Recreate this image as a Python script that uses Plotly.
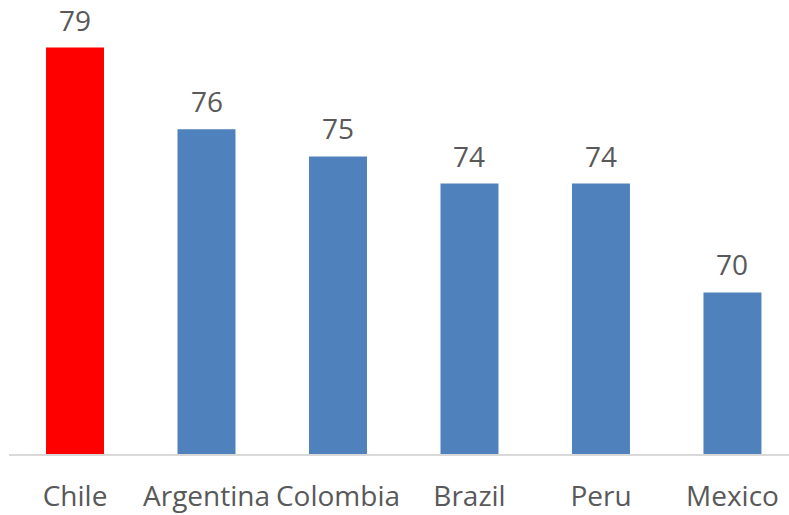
import plotly.graph_objects as go

countries = ["Chile", "Argentina", "Colombia", "Brazil", "Peru", "Mexico"]
values = [79, 76, 75, 74, 74, 70]
bar_colors = ["#ff0000", "#4f81bd", "#4f81bd", "#4f81bd", "#4f81bd", "#4f81bd"]

text_color = "#595959"
font_family = "Open Sans"

fig = go.Figure()
fig.add_trace(go.Bar(
    x=countries,
    y=values,
    marker=dict(color=bar_colors, line=dict(width=0)),
    hoverinfo="skip",
))

for c, v in zip(countries, values):
    fig.add_annotation(
        x=c, y=v, text=str(v), showarrow=False,
        yanchor="bottom", yshift=8, borderpad=0,
        font=dict(family=font_family, size=28, color=text_color),
    )

fig.update_layout(
    width=789, height=515,
    margin=dict(l=9, r=0, t=0, b=61),
    paper_bgcolor="white", plot_bgcolor="white",
    bargap=0.559,
    showlegend=False,
    xaxis=dict(
        range=[-0.502, 5.43],
        showgrid=False, zeroline=False,
        showline=True, linecolor="#d9d9d9", linewidth=2,
        ticks="", ticklabelstandoff=16,
        tickfont=dict(family=font_family, size=28, color=text_color),
    ),
    yaxis=dict(
        range=[64.06, 80.75], visible=False, showgrid=False, zeroline=False,
    ),
)

fig.write_html("out.html")
